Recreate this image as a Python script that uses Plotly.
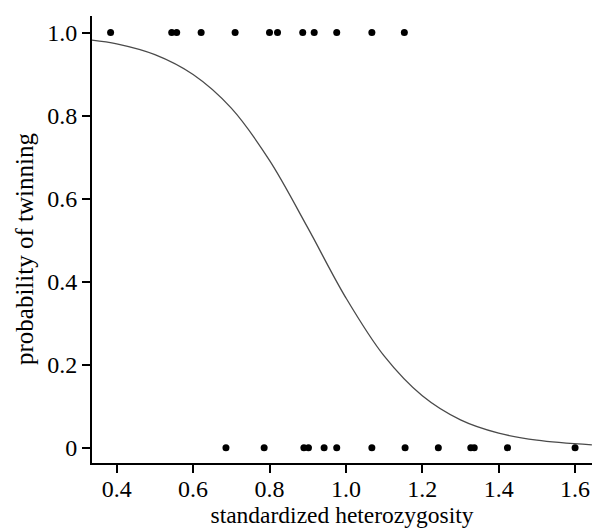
import plotly.graph_objects as go

# observed data: heterozygosity of twinning (1) and non-twinning (0) cases
twin_x = [0.384, 0.544, 0.557, 0.621, 0.710, 0.800, 0.821, 0.887, 0.917, 0.976, 1.068, 1.153]
twin_y = [1] * len(twin_x)
single_x = [0.686, 0.786, 0.890, 0.902, 0.943, 0.976, 1.068, 1.155, 1.242, 1.327, 1.336, 1.423, 1.600]
single_y = [0] * len(single_x)

# fitted curve, values
curve_x = [0.335, 0.4, 0.5, 0.6, 0.7, 0.8, 0.9, 1.0, 1.1, 1.2, 1.3, 1.4, 1.5, 1.644]
curve_y = [0.982, 0.973, 0.947, 0.899, 0.818, 0.692, 0.530, 0.361, 0.221, 0.125, 0.067, 0.035, 0.018, 0.0066]

x_ticks = [0.4, 0.6, 0.8, 1.0, 1.2, 1.4, 1.6]
x_tick_text = ["0.4", "0.6", "0.8", "1.0", "1.2", "1.4", "1.6"]
y_ticks = [0, 0.2, 0.4, 0.6, 0.8, 1.0]
y_tick_text = ["0", "0.2", "0.4", "0.6", "0.8", "1.0"]

font = "Liberation Serif, Times New Roman, serif"

fig = go.Figure()
fig.add_trace(go.Scatter(x=curve_x, y=curve_y, mode="lines", line=dict(color="#4a4a4a", width=1.3, shape="spline"),
                         hoverinfo="skip", showlegend=False))
fig.add_trace(go.Scatter(x=twin_x, y=twin_y, mode="markers", marker=dict(color="black", size=7), showlegend=False))
fig.add_trace(go.Scatter(x=single_x, y=single_y, mode="markers", marker=dict(color="black", size=7), showlegend=False))

fig.update_layout(
    width=592, height=530,
    margin=dict(l=92, r=0, t=16, b=67),
    plot_bgcolor="white", paper_bgcolor="white",
    font=dict(family=font, color="black", size=24),
    xaxis=dict(range=[0.3353, 1.6443], tickvals=x_ticks, ticktext=x_tick_text, automargin=False,
               showgrid=False, zeroline=False, showline=True, linecolor="black", linewidth=2,
               ticks="outside", ticklen=8, tickwidth=2, tickcolor="black", ticklabelstandoff=-5,
               title=dict(text="standardized heterozygosity", standoff=6, font=dict(size=23.5))),
    yaxis=dict(range=[-0.037, 1.040], tickvals=y_ticks, ticktext=y_tick_text, automargin=False,
               showgrid=False, zeroline=False, showline=True, linecolor="black", linewidth=2,
               ticks="outside", ticklen=8, tickwidth=2, tickcolor="black"),
    annotations=[dict(text="probability of twinning", textangle=-90, showarrow=False,
                      xref="paper", yref="paper", x=(24 - 92) / 500, y=(463 - 249) / 447,
                      xanchor="center", yanchor="middle", font=dict(size=25))],
)

fig.write_html("out.html", config={"displayModeBar": False},
               post_script="document.body.style.margin='0';document.body.style.overflow='hidden';")
